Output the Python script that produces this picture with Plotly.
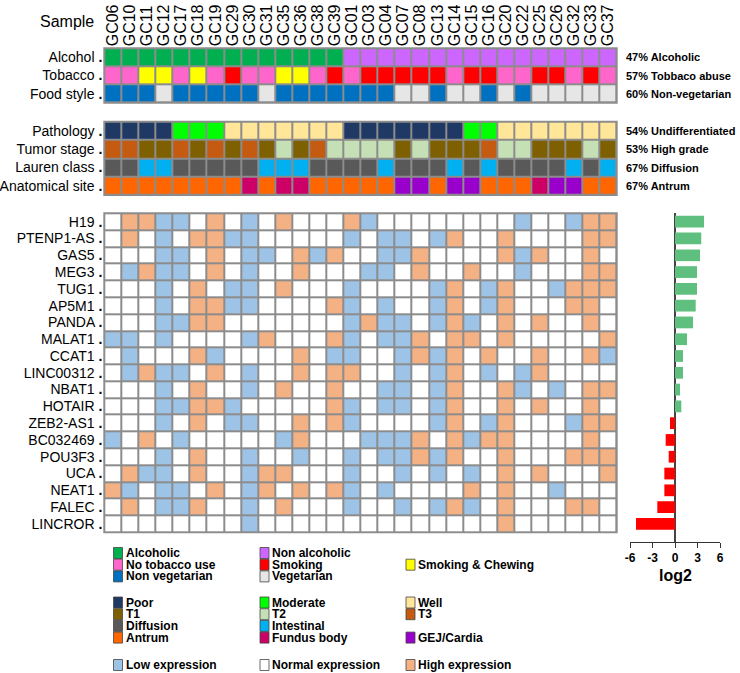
import plotly.graph_objects as go

W, H = 740, 673

# ---------------- data ----------------
samples = ["GC06", "GC10", "GC11", "GC12", "GC17", "GC18", "GC19", "GC29", "GC30", "GC31",
           "GC35", "GC36", "GC38", "GC39", "GC01", "GC03", "GC04", "GC07", "GC08", "GC13",
           "GC14", "GC15", "GC16", "GC20", "GC22", "GC25", "GC26", "GC32", "GC33", "GC37"]

# clinical categories (short code, legend label, colour)
cat_codes = ["ALC", "NAL", "NTU", "SMK", "SMC", "NVG", "VEG", "POOR", "MOD", "WELL",
             "T1", "T2", "T3", "DIF", "INT", "ANT", "FUN", "GEJ"]
cat_labels = ["Alcoholic", "Non alcoholic", "No tobacco use", "Smoking", "Smoking & Chewing",
              "Non vegetarian", "Vegetarian", "Poor", "Moderate", "Well", "T1", "T2", "T3",
              "Diffusion", "Intestinal", "Antrum", "Fundus body", "GEJ/Cardia"]
cat_colors = ["#00B050", "#CC66FF", "#FF66CC", "#FF0000", "#FFFF00", "#0070C0", "#E6E6E6",
              "#1F3864", "#00FF00", "#FFE699", "#7F6000", "#C5E0B4", "#C55A11", "#595959",
              "#00B0F0", "#FF6600", "#CC0066", "#9900CC"]

alcohol = "ALC ALC ALC ALC ALC ALC ALC ALC ALC ALC ALC ALC ALC ALC NAL NAL NAL NAL NAL NAL NAL NAL NAL NAL NAL NAL NAL NAL NAL NAL".split()
tobacco = "NTU NTU SMC SMC NTU SMC NTU SMK NTU NTU SMC SMC NTU SMK NTU SMK SMK SMK SMK SMK NTU SMK SMK NTU NTU SMK SMK NTU SMK NTU".split()
food = "NVG NVG NVG VEG NVG NVG NVG NVG NVG VEG NVG NVG NVG NVG NVG NVG NVG VEG VEG NVG VEG VEG NVG VEG NVG VEG VEG VEG VEG VEG".split()
pathology = "POOR POOR POOR POOR MOD MOD MOD WELL WELL WELL WELL WELL WELL WELL POOR POOR POOR POOR POOR POOR POOR MOD MOD WELL WELL WELL WELL WELL WELL WELL".split()
tumor = "T3 T3 T1 T1 T3 T1 T3 T1 T3 T1 T2 T1 T3 T2 T2 T2 T2 T1 T2 T1 T1 T1 T3 T2 T2 T1 T1 T1 T2 T1".split()
lauren = "DIF DIF INT INT DIF DIF DIF DIF DIF INT INT INT DIF DIF DIF DIF INT DIF DIF DIF INT DIF INT DIF DIF DIF DIF INT DIF INT".split()
site = "ANT ANT ANT ANT ANT ANT ANT ANT FUN ANT FUN FUN ANT ANT ANT ANT ANT GEJ GEJ ANT GEJ GEJ ANT ANT ANT FUN GEJ GEJ ANT ANT".split()

block1_labels = ["Alcohol", "Tobacco", "Food style"]
block1_notes = ["47% Alcoholic", "57% Tobbaco abuse", "60% Non-vegetarian"]
block2_labels = ["Pathology", "Tumor stage", "Lauren class", "Anatomical site"]
block2_notes = ["54% Undifferentiated", "53% High grade", "67% Diffusion", "67% Antrum"]

genes = ["H19", "PTENP1-AS", "GAS5", "MEG3", "TUG1", "AP5M1", "PANDA", "MALAT1", "CCAT1",
         "LINC00312", "NBAT1", "HOTAIR", "ZEB2-AS1", "BC032469", "POU3F3", "UCA", "NEAT1",
         "FALEC", "LINCROR"]
# -1 low, 0 normal, 1 high expression
expr_H19       = [0, 1, 1, -1, -1, 0, 1, 0, -1, 0, 1, 0, 0, 0, 1, -1, 0, 0, 0, 0, 0, 0, 0, 0, -1, 0, 0, -1, 1, 1]
expr_PTENP1AS  = [0, 1, 0, -1, 0, 1, 1, -1, -1, 0, 0, 0, 0, 0, -1, 0, -1, -1, 0, -1, 1, 0, 0, 1, 0, 0, 0, 0, 1, 1]
expr_GAS5      = [0, 0, 0, -1, -1, 0, 1, 0, -1, -1, 0, 1, -1, 1, 0, 0, -1, -1, 1, 0, 0, 0, 0, 1, -1, 1, 0, 0, 1, 0]
expr_MEG3      = [0, -1, 1, -1, -1, 0, 1, 0, -1, 0, 0, 1, 0, 0, 0, -1, -1, 0, 1, 0, 0, 1, 0, 0, -1, 0, 0, 0, 1, 1]
expr_TUG1      = [0, 0, 0, -1, 0, 1, 0, -1, -1, 0, 1, 0, 0, 0, -1, 0, 0, 0, 0, -1, 1, 0, -1, 1, 0, 0, -1, 1, 1, 1]
expr_AP5M1     = [0, 0, 0, -1, 0, 1, 1, -1, -1, 0, 0, 0, 0, 1, -1, 0, -1, 0, 0, -1, 1, 0, -1, 1, 0, 0, 0, 1, 1, 0]
expr_PANDA     = [0, 0, 0, -1, -1, 1, 1, 0, 0, 0, 0, 0, 0, 0, -1, 1, -1, -1, 0, -1, 1, -1, 0, 1, 0, 1, 0, 0, 1, 0]
expr_MALAT1    = [-1, -1, 0, -1, 0, 0, 0, 0, -1, 1, 0, 0, 0, 1, -1, 0, -1, -1, 1, 0, 1, 1, 0, 1, 0, 0, 0, 0, 0, 1]
expr_CCAT1     = [0, -1, 0, 0, 0, 1, -1, 0, 0, 0, 0, 1, 0, -1, -1, 0, 0, -1, 1, -1, 1, 0, 1, 0, 0, 1, 0, 0, 1, -1]
expr_LINC00312 = [0, -1, 1, -1, -1, 0, 1, 0, -1, 0, 0, 1, 0, 1, 1, 0, 0, -1, 0, -1, 1, 0, -1, 0, -1, 1, 0, 0, 0, 0]
expr_NBAT1     = [0, 0, 0, -1, 0, 1, 0, 0, -1, 0, 1, 0, 0, 1, 0, 0, -1, -1, 0, -1, 1, 0, 0, 1, -1, 0, -1, 0, 1, 1]
expr_HOTAIR    = [0, 0, 0, -1, -1, 1, 1, -1, 0, 0, 0, 0, 0, 1, -1, 0, -1, -1, 0, -1, 1, 0, 0, 1, 0, 1, 0, 0, 1, 0]
expr_ZEB2AS1   = [0, 0, 0, -1, 0, 1, 0, -1, -1, 0, 0, 1, 0, 1, -1, 0, 0, 0, 0, -1, 1, 0, -1, 1, 0, 0, 0, -1, 1, 1]
expr_BC032469  = [-1, 0, 1, 0, -1, 0, 0, 0, 0, 0, -1, 1, 0, 0, 0, -1, -1, -1, 1, 0, 1, -1, 1, 1, 0, 0, 0, 0, 1, 0]
expr_POU3F3    = [0, 0, 0, -1, 0, 1, 0, 0, -1, 0, 0, -1, 0, 0, -1, 0, -1, -1, 1, -1, 1, 0, 0, 1, 0, 0, 0, 1, 1, 1]
expr_UCA       = [0, 1, -1, -1, 0, 1, 0, 0, -1, 1, 1, 0, 0, 0, -1, 0, 0, -1, 0, -1, 0, -1, 0, 1, 0, 1, 0, 0, 0, 1]
expr_NEAT1     = [1, -1, 0, -1, -1, 0, 1, 0, -1, 1, 0, 1, 0, 1, -1, 0, -1, 0, 0, 0, 0, 1, 0, 1, 0, 0, -1, 0, 0, 0]
expr_FALEC     = [0, 1, 0, -1, -1, 1, 0, 0, -1, 0, 1, 0, 0, 0, -1, 0, 0, -1, 0, -1, 1, -1, 0, 1, 0, 0, 0, 1, 1, 0]
expr_LINCROR   = [0, 0, 0, 0, 0, 0, 0, 0, -1, 0, 0, 0, 0, 0, 0, 0, 0, 0, 0, 0, 0, 0, 0, 1, 0, 0, 0, 0, 0, 0]

log2fc = [3.87, 3.5, 3.33, 2.93, 2.93, 2.76, 2.4, 1.6, 1.07, 1.07, 0.67, 0.84,
          -0.67, -1.24, -0.84, -1.42, -1.42, -2.36, -5.2]
log2_ticks = [-6, -3, 0, 3, 6]
log2_ticktext = ["-6", "-3", "0", "3", "6"]

expr_labels = ["Low expression", "Normal expression", "High expression"]
expr_colors = ["#9DC3E6", "#FFFFFF", "#F4B183"]

# ---------------- layout constants ----------------
FONT = "Liberation Sans, Arial, sans-serif"
GRID_COLOR = "#8C8C8C"
GX0, GX1 = 104.3, 616.7
B1 = (48.3, 102.7)
B2 = (121.7, 195.0)
B3 = (213.3, 532.3)
BAR_X = (630.0, 720.0)
BAR_Y = (213.3, 541.7)
PAD = 1.0


def xp(px):
    return px / W


def yp(px):
    return 1 - px / H


ncol = len(samples)
cw = (GX1 - GX0) / ncol


def xdom():
    return [xp(GX0 - PAD), xp(GX1 + PAD)]


def xrng():
    e = PAD / cw
    return [-0.5 - e, ncol - 0.5 + e]


def ydom(b):
    return [yp(b[1] + PAD), yp(b[0] - PAD)]


def yrng(b, n):
    rh = (b[1] - b[0]) / n
    e = PAD / rh
    return [n - 0.5 + e, -0.5 - e]


def discrete_scale(colors):
    n = len(colors)
    cs = []
    for i, c in enumerate(colors):
        cs.append([i / n, c])
        cs.append([(i + 1) / n, c])
    return cs


code_idx = {c: i for i, c in enumerate(cat_codes)}
cat_scale = discrete_scale(cat_colors)

fig = go.Figure()

z1 = [[code_idx[v] for v in row] for row in [alcohol, tobacco, food]]
z2 = [[code_idx[v] for v in row] for row in [pathology, tumor, lauren, site]]
expr_rows = [expr_H19, expr_PTENP1AS, expr_GAS5, expr_MEG3, expr_TUG1, expr_AP5M1, expr_PANDA,
             expr_MALAT1, expr_CCAT1, expr_LINC00312, expr_NBAT1, expr_HOTAIR, expr_ZEB2AS1,
             expr_BC032469, expr_POU3F3, expr_UCA, expr_NEAT1, expr_FALEC, expr_LINCROR]
z3 = [[v + 1 for v in row] for row in expr_rows]

cols = list(range(ncol))
common = dict(xgap=2, ygap=2, showscale=False, hoverinfo="skip")
fig.add_trace(go.Heatmap(z=z1, x=cols, y=list(range(3)), colorscale=cat_scale,
                         zmin=-0.5, zmax=len(cat_codes) - 0.5, xaxis="x", yaxis="y", **common))
fig.add_trace(go.Heatmap(z=z2, x=cols, y=list(range(4)), colorscale=cat_scale,
                         zmin=-0.5, zmax=len(cat_codes) - 0.5, xaxis="x2", yaxis="y2", **common))
fig.add_trace(go.Heatmap(z=z3, x=cols, y=list(range(len(genes))),
                         colorscale=discrete_scale(expr_colors),
                         zmin=-0.5, zmax=2.5, xaxis="x3", yaxis="y3", **common))

bar_colors = ["#5FBF7E" if v >= 0 else "#FF0000" for v in log2fc]
fig.add_trace(go.Bar(x=log2fc, y=list(range(len(genes))), orientation="h",
                     marker=dict(color=bar_colors, line=dict(width=0)), width=0.7,
                     xaxis="x4", yaxis="y4", hoverinfo="skip"))

lab_font = dict(family=FONT, size=14, color="black")


def lbl(s):
    return s + " <b>.</b>"


noaxis = dict(showgrid=False, zeroline=False, showline=False, ticks="", automargin=False)
fig.update_layout(
    template="none",
    width=W, height=H, margin=dict(l=0, r=0, t=0, b=0, pad=0), autosize=False,
    paper_bgcolor="white", plot_bgcolor="white", showlegend=False,
    font=dict(family=FONT, color="black"),
    xaxis=dict(domain=xdom(), range=xrng(), anchor="y", side="top",
               tickvals=cols, ticktext=samples, tickangle=-90,
               tickfont=dict(family=FONT, size=16, color="black"), **noaxis),
    yaxis=dict(domain=ydom(B1), range=yrng(B1, 3), anchor="x",
               tickvals=list(range(3)), ticktext=[lbl(s) for s in block1_labels],
               tickfont=lab_font, **noaxis),
    xaxis2=dict(domain=xdom(), range=xrng(), anchor="y2", showticklabels=False, **noaxis),
    yaxis2=dict(domain=ydom(B2), range=yrng(B2, 4), anchor="x2",
                tickvals=list(range(4)), ticktext=[lbl(s) for s in block2_labels],
                tickfont=lab_font, **noaxis),
    xaxis3=dict(domain=xdom(), range=xrng(), anchor="y3", showticklabels=False, **noaxis),
    yaxis3=dict(domain=ydom(B3), range=yrng(B3, len(genes)), anchor="x3",
                tickvals=list(range(len(genes))), ticktext=[lbl(s) for s in genes],
                tickfont=lab_font, **noaxis),
    xaxis4=dict(domain=[xp(BAR_X[0]), xp(BAR_X[1])], range=[log2_ticks[0], log2_ticks[-1]],
                anchor="y4", tickvals=log2_ticks, ticktext=log2_ticktext,
                ticks="outside", ticklen=5, tickwidth=1.2,
                tickcolor="#333333", showline=True, linecolor="#333333", linewidth=1.2,
                showgrid=False, zeroline=True, zerolinecolor="#444444", zerolinewidth=1.5,
                automargin=False,
                tickfont=dict(family=FONT, size=12, color="black", weight="bold")),
    yaxis4=dict(domain=[yp(BAR_Y[1]), yp(BAR_Y[0])],
                range=[-0.5 + (BAR_Y[1] - BAR_Y[0]) / ((B3[1] - B3[0]) / len(genes)), -0.5],
                anchor="x4", visible=False, automargin=False),
)

shapes = []
for xr, yr in [("x", "y"), ("x2", "y2"), ("x3", "y3")]:
    shapes.append(dict(type="rect", xref=xr + " domain", yref=yr + " domain", x0=0, x1=1, y0=0, y1=1,
                       fillcolor=GRID_COLOR, line=dict(width=0), layer="below"))

annotations = []
annotations.append(dict(text="Sample", x=xp(96), y=yp(22), xref="paper", yref="paper",
                        xanchor="right", yanchor="middle", showarrow=False,
                        font=dict(family=FONT, size=16, color="black")))
note_font = dict(family=FONT, size=11, color="black", weight="bold")
for b, notes in [(B1, block1_notes), (B2, block2_notes)]:
    n = len(notes)
    rh = (b[1] - b[0]) / n
    for i, t in enumerate(notes):
        annotations.append(dict(text=t, x=xp(624), y=yp(b[0] + rh * (i + 0.5)), xref="paper",
                                yref="paper", xanchor="left", yanchor="middle", showarrow=False,
                                font=note_font))
annotations.append(dict(text="<b>log2</b>", x=xp(675), y=yp(575), xref="paper", yref="paper",
                        xanchor="center", yanchor="middle", showarrow=False,
                        font=dict(family=FONT, size=16, color="black")))

# legend (column, row-centre) placement
leg_cols_sw = [113.5, 260.0, 406.0]
leg_rows_g1 = [553.0, 564.7, 576.4]
leg_rows_g2 = [602.5, 614.2, 625.9, 637.6]
leg_row_g3 = 665.0
legend_items = [
    ("ALC", 0, leg_rows_g1[0]), ("NTU", 0, leg_rows_g1[1]), ("NVG", 0, leg_rows_g1[2]),
    ("NAL", 1, leg_rows_g1[0]), ("SMK", 1, leg_rows_g1[1]), ("VEG", 1, leg_rows_g1[2]),
    ("SMC", 2, leg_rows_g1[1]),
    ("POOR", 0, leg_rows_g2[0]), ("T1", 0, leg_rows_g2[1]), ("DIF", 0, leg_rows_g2[2]), ("ANT", 0, leg_rows_g2[3]),
    ("MOD", 1, leg_rows_g2[0]), ("T2", 1, leg_rows_g2[1]), ("INT", 1, leg_rows_g2[2]), ("FUN", 1, leg_rows_g2[3]),
    ("WELL", 2, leg_rows_g2[0]), ("T3", 2, leg_rows_g2[1]), ("GEJ", 2, leg_rows_g2[3]),
]
entries = [(cat_labels[code_idx[c]], cat_colors[code_idx[c]], col, yc) for c, col, yc in legend_items]
for i in range(3):
    entries.append((expr_labels[i], expr_colors[i], i, leg_row_g3))

leg_font = dict(family=FONT, size=12, color="black", weight="bold")
SW_W, SW_H = 9.0, 11.0
for text, color, col, yc in entries:
    x0 = leg_cols_sw[col]
    shapes.append(dict(type="rect", xref="paper", yref="paper",
                       x0=xp(x0), x1=xp(x0 + SW_W), y0=yp(yc + SW_H / 2), y1=yp(yc - SW_H / 2),
                       fillcolor=color, line=dict(color="#444444", width=0.8)))
    annotations.append(dict(text=text, x=xp(x0 + SW_W + 1), y=yp(yc), xref="paper", yref="paper",
                            xanchor="left", yanchor="middle", showarrow=False, font=leg_font))

fig.update_layout(shapes=shapes, annotations=annotations)
fig.write_html("out.html", config={"displayModeBar": False},
               post_script="document.body.style.margin='0';")
